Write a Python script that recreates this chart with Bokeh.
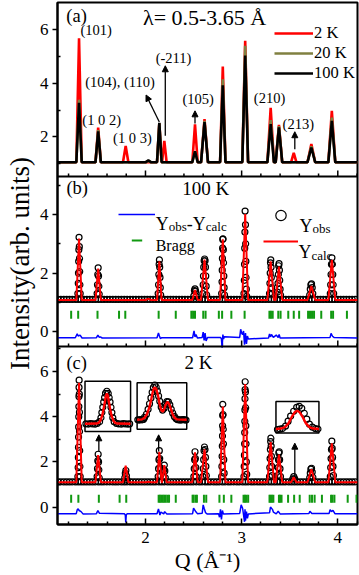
import numpy as np
from bokeh.plotting import figure
from bokeh.models import (Range1d, LinearAxis, FixedTicker, Label, Arrow, NormalHead,
                          Legend, LegendItem, Title, Span)
from bokeh.embed import file_html
from bokeh.resources import INLINE

FONT = "Liberation Serif"
RED, OLIVE, GREEN, BLUE = "#ff0000", "#808040", "#119911", "#0000ff"

# ---------------- data ----------------
# reflection positions (Q, 1/A) and foot half-widths
pk_q = [1.309, 1.508, 1.794, 2.030, 2.144, 2.196, 2.515, 2.614, 2.804, 3.037, 3.302, 3.388, 3.542, 3.725, 3.938]
pk_w = [0.028, 0.028, 0.028, 0.030, 0.024, 0.024, 0.028, 0.036, 0.028, 0.030, 0.034, 0.034, 0.028, 0.040, 0.036]

# panel (a): peak heights at 2 K, 20 K, 100 K
a_base = 1.05
a_2k = [5.68, 2.34, 1.66, 1.06, 2.50, 1.85, 2.47, 2.66, 4.62, 5.58, 3.08, 2.45, 1.40, 1.73, 2.97]
a_20k = [3.38, 2.25, 1.05, 1.10, 2.50, 1.05, 1.46, 2.60, 4.15, 5.40, 2.62, 2.40, 1.05, 1.65, 2.72]
a_100k = [3.27, 2.20, 1.05, 1.12, 2.52, 1.05, 1.46, 2.55, 3.92, 5.03, 2.47, 2.35, 1.05, 1.60, 2.60]

# background sample positions of the observed patterns
bg_q = [1.09, 1.12, 1.15, 1.18, 1.21, 1.24, 1.27, 1.30, 1.33, 1.36, 1.39, 1.42, 1.45, 1.48, 1.51,
        1.54, 1.57, 1.60, 1.63, 1.66, 1.69, 1.72, 1.75, 1.78, 1.81, 1.84, 1.87, 1.90, 1.93, 1.96,
        1.99, 2.02, 2.05, 2.08, 2.11, 2.14, 2.17, 2.20, 2.23, 2.26, 2.29, 2.32, 2.35, 2.38, 2.41,
        2.44, 2.47, 2.50, 2.53, 2.56, 2.59, 2.62, 2.65, 2.68, 2.71, 2.74, 2.77, 2.80, 2.83, 2.86,
        2.89, 2.92, 2.95, 2.98, 3.01, 3.04, 3.07, 3.10, 3.13, 3.16, 3.19, 3.22, 3.25, 3.28, 3.31,
        3.34, 3.37, 3.40, 3.43, 3.46, 3.49, 3.52, 3.55, 3.58, 3.61, 3.64, 3.67, 3.70, 3.73, 3.76,
        3.79, 3.82, 3.85, 3.88, 3.91, 3.94, 3.97, 4.00, 4.03, 4.06, 4.09, 4.12, 4.15, 4.18]

# panel (b): 100 K refinement
b_bg = 1.10
b_calc_base = 1.08
b_calc = [3.18, 2.15, 1.08, 1.12, 2.40, 1.08, 1.42, 2.46, 3.15, 4.02, 2.40, 2.22, 1.08, 1.56, 2.46]
b_obs_q = [1.297, 1.301, 1.303, 1.305, 1.307, 1.309, 1.312, 1.314, 1.316, 1.318, 1.321,
           1.497, 1.501, 1.504, 1.508, 1.512, 1.515, 1.519,
           2.132, 2.136, 2.139, 2.142, 2.145, 2.148, 2.151, 2.154, 2.158,
           2.503, 2.509, 2.515, 2.521, 2.527,
           2.596, 2.600, 2.603, 2.606, 2.610, 2.615, 2.620, 2.624, 2.627, 2.631, 2.636,
           2.792, 2.796, 2.798, 2.800, 2.802, 2.804, 2.807, 2.810, 2.812, 2.815, 2.818, 2.822,
           3.024, 3.028, 3.030, 3.032, 3.034, 3.036, 3.040, 3.042, 3.044, 3.046, 3.049, 3.053,
           3.290, 3.294, 3.297, 3.300, 3.303, 3.306, 3.309, 3.313, 3.318,
           3.374, 3.378, 3.382, 3.385, 3.389, 3.393, 3.396, 3.400, 3.405,
           3.708, 3.714, 3.720, 3.727, 3.734, 3.740,
           3.922, 3.926, 3.930, 3.934, 3.939, 3.944, 3.948, 3.952, 3.957]
b_obs_i = [1.30, 1.65, 2.00, 2.40, 2.80, 3.22, 2.90, 2.50, 2.05, 1.60, 1.30,
           1.30, 1.60, 1.95, 2.18, 1.90, 1.55, 1.28,
           1.30, 1.60, 1.95, 2.30, 2.45, 2.20, 1.85, 1.50, 1.25,
           1.22, 1.40, 1.46, 1.38, 1.20,
           1.30, 1.60, 1.90, 2.20, 2.42, 2.48, 2.42, 2.20, 1.90, 1.55, 1.25,
           1.30, 1.70, 2.10, 2.50, 2.85, 3.15, 3.17, 2.80, 2.35, 1.90, 1.50, 1.25,
           1.30, 1.75, 2.30, 2.85, 3.40, 4.12, 3.65, 3.00, 2.40, 1.85, 1.45, 1.20,
           1.30, 1.65, 2.00, 2.35, 2.45, 2.20, 1.85, 1.50, 1.30,
           1.35, 1.65, 1.95, 2.25, 2.32, 2.10, 1.75, 1.45, 1.25,
           1.25, 1.45, 1.60, 1.63, 1.50, 1.30,
           1.30, 1.60, 1.95, 2.30, 2.52, 2.30, 1.95, 1.60, 1.30]
bragg_b = [1.227, 1.300, 1.501, 1.725, 1.790, 2.137, 2.315, 2.477, 2.495, 2.515, 2.601, 2.625,
           2.763, 2.797, 2.893, 3.031, 3.289, 3.305, 3.323, 3.381, 3.405, 3.485, 3.542, 3.598,
           3.691, 3.711, 3.732, 3.753, 3.828, 3.931, 3.951, 4.095]
diff_b_q = [1.085, 1.27, 1.29, 1.30, 1.32, 1.34, 1.49, 1.505, 1.52, 1.53, 1.55, 2.12, 2.135, 2.145,
            2.155, 2.17, 2.49, 2.505, 2.515, 2.525, 2.54, 2.59, 2.60, 2.61, 2.62, 2.63, 2.645, 2.78,
            2.79, 2.797, 2.805, 2.812, 2.82, 2.98, 2.99, 3.00, 3.01, 3.02, 3.03, 3.04, 3.05, 3.06,
            3.07, 3.28, 3.29, 3.30, 3.31, 3.33, 3.36, 3.38, 3.39, 3.40, 3.92, 3.93, 3.945, 3.96, 4.205]
diff_b_i = [-0.21, -0.21, -0.08, -0.15, -0.12, -0.22, -0.21, -0.12, -0.20, -0.18, -0.22, -0.21, -0.05,
            -0.15, -0.24, -0.21, -0.21, 0.02, -0.18, -0.10, -0.22, -0.20, -0.02, -0.30, -0.05, -0.32,
            -0.20, -0.20, -0.25, -0.55, -0.10, -0.25, -0.18, -0.20, 0.08, -0.05, -0.10, 0.02, -0.45,
            -0.05, -0.42, -0.15, -0.25, -0.22, -0.08, -0.18, -0.10, -0.20, -0.12, -0.20, -0.10, -0.22,
            -0.20, -0.06, -0.16, -0.20, -0.22]

# panel (c): 2 K refinement
c_bg = 1.12
c_calc_base = 1.10
c_calc = [5.50, 2.30, 1.84, 1.12, 2.45, 1.86, 2.42, 2.56, 4.45, 5.45, 2.88, 2.32, 1.32, 1.68, 2.82]
c_obs_q = [1.297, 1.300, 1.302, 1.303, 1.304, 1.305, 1.306, 1.307, 1.308, 1.309, 1.310, 1.312, 1.313,
           1.314, 1.316, 1.318, 1.321,
           1.497, 1.501, 1.504, 1.508, 1.512, 1.515, 1.519,
           1.785, 1.790, 1.796, 1.802, 1.807,
           2.132, 2.136, 2.140, 2.144, 2.148, 2.152, 2.156,
           2.186, 2.191, 2.196, 2.201, 2.206,
           2.503, 2.507, 2.511, 2.515, 2.519, 2.523, 2.527,
           2.597, 2.601, 2.605, 2.609, 2.614, 2.619, 2.624, 2.628, 2.633,
           2.792, 2.795, 2.797, 2.799, 2.801, 2.802, 2.803, 2.804, 2.807, 2.809, 2.811, 2.814, 2.818,
           3.024, 3.027, 3.029, 3.031, 3.032, 3.033, 3.034, 3.035, 3.036, 3.037, 3.040, 3.042, 3.044,
           3.046, 3.049, 3.053,
           3.290, 3.293, 3.296, 3.299, 3.302, 3.304, 3.307, 3.310, 3.313, 3.317,
           3.375, 3.379, 3.383, 3.387, 3.391, 3.395, 3.399, 3.404,
           3.532, 3.542, 3.552,
           3.708, 3.714, 3.720, 3.727, 3.734, 3.741,
           3.922, 3.926, 3.930, 3.934, 3.938, 3.942, 3.946, 3.950, 3.955]
c_obs_i = [1.35, 1.75, 2.20, 2.65, 3.10, 3.55, 4.00, 4.45, 4.90, 5.30, 5.62, 5.00, 4.20,
           3.35, 2.50, 1.80, 1.35,
           1.35, 1.70, 2.05, 2.34, 2.00, 1.65, 1.30,
           1.30, 1.50, 1.62, 1.40, 1.22,
           1.35, 1.70, 2.10, 2.50, 2.15, 1.75, 1.40,
           1.35, 1.65, 1.86, 1.60, 1.30,
           1.35, 1.70, 2.10, 2.45, 2.15, 1.75, 1.35,
           1.35, 1.70, 2.10, 2.50, 2.66, 2.55, 2.20, 1.80, 1.40,
           1.35, 1.80, 2.25, 2.70, 3.15, 3.60, 4.05, 4.55, 4.10, 3.45, 2.80, 2.10, 1.50,
           1.35, 1.80, 2.30, 2.80, 3.30, 3.80, 4.30, 4.80, 5.20, 5.55, 5.10, 4.40, 3.60,
           2.80, 2.00, 1.45,
           1.35, 1.75, 2.15, 2.55, 2.90, 3.05, 2.70, 2.25, 1.80, 1.40,
           1.40, 1.75, 2.10, 2.40, 2.45, 2.10, 1.70, 1.35,
           1.25, 1.35, 1.25,
           1.30, 1.50, 1.68, 1.72, 1.55, 1.32,
           1.35, 1.75, 2.15, 2.55, 2.92, 2.60, 2.20, 1.80, 1.40]
bragg_c = [1.227, 1.302, 1.515, 1.731, 1.800, 2.137, 2.150, 2.165, 2.180, 2.195, 2.210, 2.228, 2.245,
           2.315, 2.490, 2.500, 2.520, 2.535, 2.608, 2.632, 2.769, 2.815, 2.893, 3.020, 3.035, 3.050,
           3.068, 3.290, 3.300, 3.315, 3.330, 3.388, 3.400, 3.415, 3.483, 3.546, 3.604, 3.708, 3.732,
           3.759, 3.835, 3.930, 3.945, 3.965, 4.103, 4.195]
diff_c_q = [1.085, 1.28, 1.29, 1.30, 1.31, 1.33, 1.35, 1.49, 1.505, 1.52, 1.78, 1.79, 1.795, 1.80, 1.81,
            2.12, 2.135, 2.15, 2.16, 2.19, 2.20, 2.22, 2.49, 2.50, 2.52, 2.54, 2.59, 2.60, 2.61, 2.625,
            2.64, 2.76, 2.77, 2.78, 2.79, 2.80, 2.81, 2.98, 2.995, 3.01, 3.02, 3.03, 3.035, 3.04, 3.05,
            3.06, 3.07, 3.29, 3.30, 3.32, 3.33, 3.36, 3.38, 3.40, 3.70, 3.71, 3.73, 3.91, 3.92, 3.935,
            3.95, 3.97, 4.205]
diff_c_i = [-0.29, -0.29, -0.12, -0.08, -0.15, -0.20, -0.30, -0.29, -0.15, -0.27, -0.29, -0.35, -0.68,
            -0.35, -0.29, -0.29, -0.08, -0.35, -0.22, -0.30, -0.20, -0.30, -0.29, -0.05, -0.18, -0.29,
            -0.27, 0.10, -0.05, -0.25, -0.30, -0.29, -0.45, -0.10, -0.55, -0.15, -0.30, -0.28, 0.10,
            -0.05, -0.35, -0.65, -0.10, -0.60, -0.20, -0.50, -0.30, -0.25, 0.00, -0.10, -0.22, -0.30,
            -0.18, -0.30, -0.28, -0.18, -0.28, -0.28, -0.12, -0.20, -0.14, -0.29, -0.29]

# insets of panel (c): magnified (1 0 2), (104)/(110)+(-211), (213)
ins1_calc_q = [1.460, 1.485, 1.490, 1.494, 1.498, 1.501, 1.504, 1.506, 1.508, 1.510, 1.512, 1.515,
               1.518, 1.522, 1.526, 1.531, 1.560]
ins1_calc_i = [1.12, 1.13, 1.16, 1.25, 1.45, 1.70, 2.00, 2.20, 2.28, 2.20, 2.00, 1.70, 1.45, 1.25,
               1.16, 1.13, 1.12]
ins1_obs_q = [1.462, 1.467, 1.472, 1.477, 1.482, 1.487, 1.492, 1.495, 1.497, 1.499, 1.501, 1.503,
              1.505, 1.508, 1.511, 1.513, 1.515, 1.517, 1.519, 1.521, 1.524, 1.529, 1.534, 1.539,
              1.544, 1.549, 1.554, 1.558]
ins1_obs_i = [1.12, 1.11, 1.13, 1.12, 1.11, 1.14, 1.20, 1.35, 1.55, 1.75, 1.95, 2.12, 2.28, 2.36,
              2.28, 2.12, 1.95, 1.75, 1.55, 1.35, 1.20, 1.14, 1.12, 1.11, 1.13, 1.12, 1.11, 1.12]
ins2_calc_q = [2.069, 2.090, 2.100, 2.110, 2.120, 2.128, 2.135, 2.140, 2.145, 2.150, 2.157, 2.163,
               2.170, 2.176, 2.182, 2.188, 2.194, 2.198, 2.204, 2.211, 2.218, 2.226, 2.236, 2.277]
ins2_calc_i = [1.12, 1.14, 1.20, 1.35, 1.62, 1.95, 2.28, 2.43, 2.45, 2.36, 2.10, 1.78, 1.52, 1.45,
               1.55, 1.72, 1.84, 1.85, 1.75, 1.55, 1.35, 1.20, 1.14, 1.12]
ins2_obs_q = [2.072, 2.078, 2.084, 2.090, 2.096, 2.100, 2.108, 2.115, 2.121, 2.127, 2.132, 2.137,
              2.143, 2.149, 2.154, 2.159, 2.164, 2.170, 2.176, 2.182, 2.188, 2.194, 2.200, 2.206,
              2.212, 2.218, 2.225, 2.232, 2.238, 2.244, 2.250, 2.256, 2.262, 2.268, 2.274]
ins2_obs_i = [1.12, 1.11, 1.13, 1.12, 1.14, 1.22, 1.35, 1.55, 1.78, 2.02, 2.25, 2.45, 2.55, 2.47,
              2.30, 2.10, 1.88, 1.65, 1.52, 1.60, 1.76, 1.87, 1.86, 1.74, 1.56, 1.40, 1.26, 1.17,
              1.13, 1.12, 1.11, 1.12, 1.13, 1.12, 1.11]
ins3_calc_q = [3.500, 3.510, 3.518, 3.525, 3.531, 3.537, 3.542, 3.547, 3.553, 3.559, 3.566, 3.574, 3.585]
ins3_calc_i = [1.12, 1.125, 1.14, 1.18, 1.24, 1.29, 1.305, 1.29, 1.24, 1.18, 1.14, 1.125, 1.12]
ins3_obs_q = [3.503, 3.508, 3.513, 3.519, 3.524, 3.529, 3.535, 3.541, 3.546, 3.551, 3.556, 3.561,
              3.566, 3.572, 3.578, 3.583]
ins3_obs_i = [1.115, 1.12, 1.125, 1.15, 1.20, 1.25, 1.30, 1.34, 1.35, 1.33, 1.28, 1.22, 1.17, 1.14,
              1.125, 1.12]

x_major = [2, 3, 4]
x_minor = [1.2, 1.4, 1.6, 1.8, 2.2, 2.4, 2.6, 2.8, 3.2, 3.4, 3.6, 3.8, 4.2]

# ---------------- layout ----------------
XR = (1.085, 4.205)
FRAME_H = 522
PANELS = {"a": ((0.52, 7.01), (348, 522)),
          "b": ((-0.51, 5.30), (178, 348)),
          "c": ((-0.77, 7.11), (0, 178))}


def full_range(src, tgt, tot_lo, tot_hi):
    lo, hi = src
    t0, t1 = tgt
    k = (hi - lo) / (t1 - t0)
    return Range1d(lo - (t0 - tot_lo) * k, hi + (tot_hi - t1) * k)


def to_parent(name, v):
    (lo, hi), (t0, t1) = PANELS[name]
    return t0 + (v - lo) * (t1 - t0) / (hi - lo)


p = figure(width=359, height=575, x_range=Range1d(*XR), y_range=Range1d(0, FRAME_H),
           x_axis_type=None, y_axis_type=None, output_backend="svg", toolbar_location=None,
           min_border_left=54, min_border_right=2, min_border_top=2, min_border_bottom=51)
p.outline_line_color = "black"
p.outline_line_width = 2
p.background_fill_color = "white"
p.border_fill_color = "white"

yr = {name: full_range(src, tgt, 0, FRAME_H) for name, (src, tgt) in PANELS.items()}
xr = {}
INSET_BOX = [((1.371, 1.845), (3.35, 5.57)), ((1.913, 2.429), (3.45, 5.50)), ((3.357, 3.804), (3.28, 4.68))]
INSET_SRC = [((1.46, 1.56), (0.83, 2.74)), ((2.069, 2.277), (0.735, 2.64)), ((3.50, 3.585), (1.08, 1.40))]
for k, (box, src) in enumerate(zip(INSET_BOX, INSET_SRC)):
    (bx0, bx1), (by0, by1) = box
    xr[f"i{k}x"] = full_range(src[0], (bx0, bx1), XR[0], XR[1])
    yr[f"i{k}y"] = full_range(src[1], (to_parent("c", by0), to_parent("c", by1)), 0, FRAME_H)
p.extra_y_ranges = yr
p.extra_x_ranges = xr

# axes
tick_style = dict(axis_line_width=2, axis_line_color="black", major_tick_line_width=1.5,
                  minor_tick_line_width=1.5, major_tick_line_color="black",
                  minor_tick_line_color="black")
xax = LinearAxis(ticker=FixedTicker(ticks=x_major, minor_ticks=x_minor), major_tick_in=6,
                 major_tick_out=0, minor_tick_in=3, minor_tick_out=0,
                 major_label_text_font=FONT, major_label_text_font_size="17px",
                 major_label_text_color="black", major_label_standoff=7, **tick_style)
p.add_layout(xax, "below")

yticks, yminor, yover = [], [], {}
for name, vals, mins in (("a", [2, 4, 6], [1, 3, 5]), ("b", [0, 2, 4], [1, 3, 5]),
                         ("c", [0, 2, 4, 6], [1, 3, 5, 7])):
    for v in vals:
        t = round(to_parent(name, v), 3)
        yticks.append(t)
        yover[t] = str(v)
    for v in mins:
        yminor.append(round(to_parent(name, v), 3))
yax = LinearAxis(ticker=FixedTicker(ticks=yticks, minor_ticks=yminor), major_label_overrides=yover,
                 major_tick_out=5, major_tick_in=0, minor_tick_in=3, minor_tick_out=0,
                 major_label_text_font=FONT, major_label_text_font_size="17px",
                 major_label_text_color="black", major_label_standoff=4, **tick_style)
p.add_layout(yax, "left")

# axis titles
p.add_layout(Title(text="Intensity(arb. units)", align="center", offset=-13, standoff=4,
                   text_font=FONT, text_font_size="27px", text_font_style="normal",
                   text_color="black"), "left")
p.add_layout(Title(text="Q (Å⁻¹)", align="center", offset=-7, standoff=0,
                   text_font=FONT, text_font_size="22px", text_font_style="normal",
                   text_color="black"), "below")

# panel separators with inward ticks
for loc in (178, 348):
    p.add_layout(Span(location=loc, dimension="width", line_color="black", line_width=2))
    p.segment(x0=x_major, y0=loc, x1=x_major, y1=loc + 6, line_color="black", line_width=1.5)
    p.segment(x0=x_minor, y0=loc, x1=x_minor, y1=loc + 3, line_color="black", line_width=1.5)


def tri_profile(base, heights, widths):
    xs, ys = [XR[0]], [base]
    for q, h, w in zip(pk_q, heights, widths):
        if h - base > 0.005:
            xs += [q - w, q, q + w]
            ys += [base, h, base]
    xs.append(XR[1])
    ys.append(base)
    return xs, ys


# ---- panel (a)
r2 = p.line(*tri_profile(a_base, a_2k, pk_w), line_color=RED, line_width=2.6, y_range_name="a")
r20 = p.line(*tri_profile(a_base, a_20k, pk_w), line_color=OLIVE, line_width=2.6, y_range_name="a")
r100 = p.line(*tri_profile(a_base, a_100k, pk_w), line_color="black", line_width=2.6, y_range_name="a")

circ = dict(marker="circle", size=6, line_color="black", line_width=1.2, fill_color=None)

# ---- panel (b)
rb_obs = p.scatter(bg_q + b_obs_q, [b_bg] * len(bg_q) + b_obs_i, y_range_name="b", **circ)
rb_calc = p.line(*tri_profile(b_calc_base, b_calc, pk_w), line_color=RED, line_width=2, y_range_name="b")
rb_bragg = p.scatter(bragg_b, [0.575] * len(bragg_b), marker="dash", angle=np.pi / 2, size=8,
                     line_color=GREEN, line_width=2, y_range_name="b")
rb_diff = p.line(diff_b_q, diff_b_i, line_color=BLUE, line_width=1.5, y_range_name="b")

# ---- panel (c)
p.scatter(bg_q + c_obs_q, [c_bg] * len(bg_q) + c_obs_i, y_range_name="c", **circ)
p.line(*tri_profile(c_calc_base, c_calc, pk_w), line_color=RED, line_width=2, y_range_name="c")
p.scatter(bragg_c, [0.37] * len(bragg_c), marker="dash", angle=np.pi / 2, size=8,
          line_color=GREEN, line_width=2, y_range_name="c")
p.line(diff_c_q, diff_c_i, line_color=BLUE, line_width=1.5, y_range_name="c")

# insets
for (bx, by) in INSET_BOX:
    p.quad(left=bx[0], right=bx[1], bottom=by[0], top=by[1], fill_color="white",
           line_color="black", line_width=1.5, y_range_name="c")
inset_data = [(ins1_obs_q, ins1_obs_i, ins1_calc_q, ins1_calc_i),
              (ins2_obs_q, ins2_obs_i, ins2_calc_q, ins2_calc_i),
              (ins3_obs_q, ins3_obs_i, ins3_calc_q, ins3_calc_i)]
for k, (oq, oi, cq, ci) in enumerate(inset_data):
    p.scatter(oq, oi, x_range_name=f"i{k}x", y_range_name=f"i{k}y", **circ)
    p.line(cq, ci, line_color=RED, line_width=2.4, x_range_name=f"i{k}x", y_range_name=f"i{k}y")


# ---------------- text ----------------
def txt(x, y, s, size, rng, align="left", baseline="middle", dx=0, dy=0):
    p.add_layout(Label(x=x, y=y, text=s, text_font=FONT, text_font_size=f"{size}px",
                       text_align=align, text_baseline=baseline, x_offset=dx, y_offset=dy,
                       y_range_name=rng, text_color="black"))


txt(1.177, 6.52, "(a)", 18.5, "a")
txt(2.615, 6.45, "λ= 0.5-3.65 Å", 22, "a", align="center")
for s, x, y in (("(101)", 1.323, 6.0), ("(1 0 2)", 1.343, 2.64), ("(1 0 3)", 1.663, 1.96),
                ("(104), (110)", 1.374, 4.06), ("(-211)", 2.106, 4.95), ("(105)", 2.385, 3.42),
                ("(210)", 3.127, 3.46), ("(213)", 3.426, 2.49)):
    txt(x, y, s, 14.5, "a")

txt(1.178, 4.89, "(b)", 18.5, "b")
txt(2.627, 4.89, "100 K", 19, "b", align="center")
txt(1.178, 6.40, "(c)", 18.5, "c")
txt(2.55, 6.40, "2 K", 19, "c", align="center")

# legend texts of (b) with subscripts
for x, y, pieces in ((2.106, 3.68, [("Y", 18, 0, 0), ("obs", 13, 13.0, -3), ("-Y", 18, 31.1, 0), ("calc", 13, 50.1, -3)]),
                     (3.601, 3.62, [("Y", 18, 0, 0), ("obs", 13, 13.0, -3)]),
                     (3.591, 2.71, [("Y", 18, 0, 0), ("calc", 13, 13.0, -3)])):
    for s, size, dx, dy in pieces:
        txt(x, y, s, size, "b", baseline="alphabetic", dx=dx, dy=dy)
txt(2.106, 2.94, "Bragg", 16, "b", baseline="alphabetic")

# arrows
for rng, x0, y0, x1, y1 in (("a", 2.144, 2.55, 2.006, 3.56), ("a", 2.206, 2.04, 2.206, 4.65),
                            ("a", 2.515, 2.50, 2.515, 2.97), ("a", 3.553, 1.54, 3.553, 2.19),
                            ("c", 1.515, 2.46, 1.515, 3.20), ("c", 2.137, 2.46, 2.137, 3.20),
                            ("c", 3.553, 1.35, 3.553, 2.83)):
    p.add_layout(Arrow(end=NormalHead(size=6, fill_color="black", line_color="black", line_width=1),
                       x_start=x0, y_start=y0, x_end=x1, y_end=y1, line_color="black",
                       line_width=1.3, y_range_name=rng))

# legends
leg_style = dict(padding=0, margin=0, spacing=0, border_line_alpha=0, background_fill_alpha=0,
                 label_text_font=FONT, label_text_color="black")
p.add_layout(Legend(items=[LegendItem(label="2 K", renderers=[r2]),
                           LegendItem(label="20 K", renderers=[r20]),
                           LegendItem(label="100 K", renderers=[r100])],
                    location=(217, 441), glyph_width=39, glyph_height=20, label_height=20,
                    label_standoff=1, label_text_font_size="16.5px", **leg_style))
p.add_layout(Legend(items=[LegendItem(label=" ", renderers=[rb_diff]),
                           LegendItem(label=" ", renderers=[rb_bragg])],
                    location=(61, 271), glyph_width=37, glyph_height=26, label_height=26,
                    label_standoff=0, label_text_font_size="10px", **leg_style))
p.add_layout(Legend(items=[LegendItem(label=" ", renderers=[rb_obs]),
                           LegendItem(label=" ", renderers=[rb_calc])],
                    location=(206, 270), glyph_width=35, glyph_height=26, label_height=26,
                    label_standoff=0, label_text_font_size="10px", **leg_style))

open("out.html", "w").write(file_html(p, INLINE))
